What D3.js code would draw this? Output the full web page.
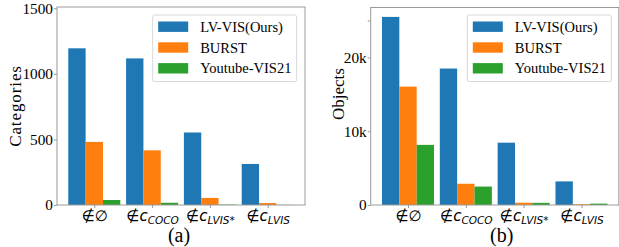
<!DOCTYPE html>
<html>
<head>
<meta charset="utf-8">
<script src="https://cdn.jsdelivr.net/npm/d3@7"></script>
<style>
  body { margin: 0; background: #fff; }
  svg { display: block; }
</style>
</head>
<body>
<svg id="chart" width="619" height="247"></svg>
<script>
// tick labels: [base, italic letter, subscript]
const tickLabels = [
  ["∉∅", "", ""],
  ["∉", "c", "COCO"],
  ["∉", "c", "LVIS*"],
  ["∉", "c", "LVIS"],
];
const seriesNames = ["LV-VIS(Ours)", "BURST", "Youtube-VIS21"];
const colors = ["#1f77b4", "#ff7f0e", "#2ca02c"];

// (a) categories
const categoriesLV = [1195, 1118, 553, 313];
const categoriesBURST = [481, 417, 54, 15];
const categoriesYT = [38, 17, 3, 1];
const categoriesTicks = [0, 500, 1000, 1500];

// (b) objects
const objectsLV = [25500, 18500, 8450, 3200];
const objectsBURST = [16050, 2880, 310, 110];
const objectsYT = [8150, 2500, 290, 190];
const objectsTicks = [0, 10000, 20000, 25000];
const objectsTickText = ["0", "10k", "20k", ""];

const serif = "'Liberation Serif', 'Times New Roman', serif";
const spineColor = "#9a9a9a";
const svg = d3.select("#chart");

function drawPanel(opt) {
  const x = d3.scaleLinear().domain([-0.645, 3.645]).range([opt.left, opt.right]);
  const y = d3.scaleLinear().domain([0, opt.ymax]).range([205, opt.top]);
  const g = svg.append("g");

  // bars
  opt.series.forEach((vals, j) => {
    g.append("g")
      .selectAll("rect")
      .data(vals)
      .join("rect")
      .attr("x", (d, i) => x(i + (j - 1) * 0.3 - 0.15))
      .attr("width", x(0.3) - x(0))
      .attr("y", (d) => y(d))
      .attr("height", (d) => y(0) - y(d))
      .attr("fill", colors[j]);
  });

  // frame
  g.append("rect")
    .attr("x", opt.left)
    .attr("y", y.range()[1])
    .attr("width", opt.right - opt.left)
    .attr("height", y.range()[0] - y.range()[1])
    .attr("fill", "none")
    .attr("stroke", spineColor)
    .attr("stroke-width", 1);

  // y axis
  const yAxis = g.append("g")
    .attr("transform", `translate(${opt.left},0)`)
    .call(d3.axisLeft(y).tickValues(opt.ticks).tickSize(3).tickPadding(1)
      .tickFormat((d, i) => opt.tickText[i]));
  yAxis.select(".domain").remove();
  yAxis.selectAll("line").attr("stroke", spineColor);
  yAxis.selectAll("text")
    .attr("font-family", serif)
    .attr("font-size", 15.3)
    .attr("fill", "#000");

  // x axis
  const xAxis = g.append("g")
    .attr("transform", `translate(0,205)`)
    .call(d3.axisBottom(x).tickValues([0, 1, 2, 3]).tickSize(3).tickFormat(""));
  xAxis.select(".domain").remove();
  xAxis.selectAll("line").attr("stroke", spineColor);
  xAxis.selectAll(".tick").each(function (d) {
    const lab = tickLabels[d];
    const t = d3.select(this).append("text")
      .attr("y", 16)
      .attr("text-anchor", "middle")
      .attr("font-family", "'DejaVu Sans', sans-serif")
      .attr("font-size", 15)
      .attr("fill", "#000");
    t.append("tspan").text(lab[0]);
    if (lab[1]) {
      t.append("tspan").attr("font-style", "italic").text(lab[1]);
      t.append("tspan")
        .attr("font-style", "italic")
        .attr("font-size", 10.5)
        .attr("dy", 3)
        .text(lab[2]);
    }
  });

  // y label
  g.append("text")
    .attr("transform", `translate(${opt.labelX},${opt.labelY}) rotate(-90)`)
    .attr("text-anchor", "middle")
    .attr("dy", "0.35em")
    .attr("font-family", serif)
    .attr("font-size", 17)
    .attr("letter-spacing", opt.labelSpacing)
    .text(opt.label);

  // legend
  const lg = g.append("g").attr("transform", `translate(${opt.legendX},15)`);
  lg.append("rect")
    .attr("width", 144)
    .attr("height", 66.5)
    .attr("rx", 2)
    .attr("fill", "#fff")
    .attr("fill-opacity", 0.85)
    .attr("stroke", "#d8d8d8");
  seriesNames.forEach((name, j) => {
    const cy = 11.7 + j * 20.8;
    lg.append("rect")
      .attr("x", 5.5)
      .attr("y", cy - 5.2)
      .attr("width", 30)
      .attr("height", 10.4)
      .attr("fill", colors[j]);
    lg.append("text")
      .attr("x", 47.5)
      .attr("y", cy + 5)
      .attr("font-family", serif)
      .attr("font-size", 14.5)
      .text(name);
  });

  // caption
  g.append("text")
    .attr("x", opt.captionX)
    .attr("y", 241.5)
    .attr("text-anchor", "middle")
    .attr("font-family", serif)
    .attr("font-size", 20)
    .text(opt.caption);
}

drawPanel({
  left: 57, right: 305, top: 7, ymax: 1510,
  series: [categoriesLV, categoriesBURST, categoriesYT],
  ticks: categoriesTicks, tickText: categoriesTicks.map(String),
  label: "Categories", labelX: 15, labelY: 106, labelSpacing: 0.9,
  legendX: 152.7, caption: "(a)", captionX: 179,
});

drawPanel({
  left: 370.7, right: 618.8, top: 7.5, ymax: 26775,
  series: [objectsLV, objectsBURST, objectsYT],
  ticks: objectsTicks, tickText: objectsTickText,
  label: "Objects", labelX: 338, labelY: 94, labelSpacing: 0,
  legendX: 467.3, caption: "(b)", captionX: 501.7,
});
</script>
</body>
</html>
